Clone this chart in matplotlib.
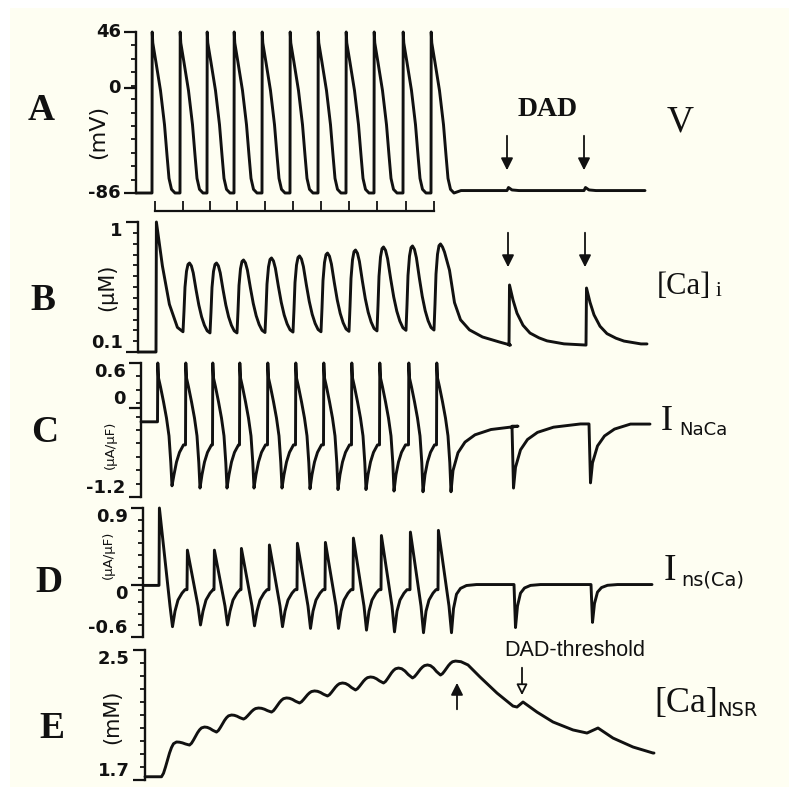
import numpy as np
import matplotlib

matplotlib.use("Agg")
import matplotlib.pyplot as plt
from matplotlib.patches import Rectangle

W, H = 789, 787
INK = "#111111"
PAPER = "#fefef2"
SERIF = "Liberation Serif"
SANS = "DejaVu Sans"

# common time base (stimulus times of the 11 paced beats, then two DADs)
beat_times = [0, 28, 55, 82, 110, 138, 166, 194, 222, 251, 279]
dad_times = [355, 432]
t_end = 493

# A: membrane potential (mV)
v_rest = -86
v_after = -84
ap_dt = [0, 0.2, 0.8, 4, 8.5, 12.5, 15, 17, 19.5, 23]
ap_mv = [-86, 46, 37, 21, -2, -30, -55, -74, -83, -86]
dad_v_dt = [0, 1.5, 5, 12]
dad_v_mv = [-84, -81.5, -83.5, -84]

# B: [Ca]i (uM)
ca_rest = 0.1
ca_peaks = [1.0, 0.716, 0.716, 0.737, 0.751, 0.765, 0.785, 0.806, 0.827, 0.834, 0.848]
ca_mins = [0.24, 0.232, 0.232, 0.235, 0.238, 0.24, 0.243, 0.246, 0.25, 0.252]
ca_tail = 0.148
ca_dad_peaks = [0.564, 0.543]
ca_rise_dt = [1, 2, 3, 4.5, 6, 7.5]
ca_rise_frac = [0, 0.3, 0.65, 0.88, 0.98, 1]
ca_fall_dt = [0, 2, 4, 7, 10, 13, 16, 19, 22]
ca_fall_frac = [1, 0.96, 0.86, 0.62, 0.4, 0.23, 0.11, 0.03, 0]
ca_first_dt = [0, 6, 13, 21, 26.6]
ca_first_frac = [1, 0.6, 0.25, 0.04, 0]
ca_tail_dt = [0, 2, 4, 9, 14, 20, 29, 42, 59, 70]
ca_tail_frac = [1, 0.97, 0.92, 0.74, 0.42, 0.25, 0.15, 0.08, 0.03, 0]
ca_dad_dt = [0, 0.5, 4, 8, 14, 21, 30, 38, 55, 76]
ca_dad_frac = [0, 1, 0.75, 0.53, 0.33, 0.2, 0.12, 0.07, 0.02, 0]

# C: I_NaCa (uA/uF)
naca_rest = -0.19
naca_fall_dt = [0.3, 1, 3, 6, 9, 11.5, 13.3]
naca_fall_val = [0.6, 0.4, 0.28, 0.08, -0.14, -0.38, -0.74]
naca_trough_dt = 14.5
naca_troughs = [-1.05, -1.08, -1.08, -1.08, -1.08, -1.09, -1.1, -1.1, -1.12, -1.13, -1.13]
naca_rec_dt = [16.5, 19, 22, 26]
naca_rec_val = [-0.9, -0.73, -0.6, -0.5]
naca_after = -0.24
naca_dad_troughs = [-1.08, -1.01]
naca_dad_after = [-0.21, -0.17]
naca_relax_dt = [0, 2, 7, 14, 24, 40, 67]
naca_relax_r = [1, 0.68, 0.41, 0.25, 0.14, 0.06, 0.01]

# D: I_ns(Ca) (uA/uF)
ns_rest = 0.0
ns_peaks = [0.9, 0.41, 0.41, 0.43, 0.47, 0.49, 0.5, 0.55, 0.58, 0.62, 0.64]
ns_troughs = [-0.48, -0.46, -0.46, -0.47, -0.48, -0.5, -0.5, -0.52, -0.54, -0.55, -0.55]
ns_knee = -0.24
ns_rec_dt = [16, 19, 23, 26]
ns_rec_val = [-0.3, -0.17, -0.09, -0.05]
ns_after = 0.01
ns_dad_troughs = [-0.49, -0.43]
ns_relax_dt = [0, 2, 5, 9, 15, 25]
ns_relax_r = [1, 0.5, 0.2, 0.08, 0.02, 0]

# E: [Ca]NSR (mM)
nsr_rest = 1.72
nsr_peaks = [1.934, 2.026, 2.10, 2.143, 2.205, 2.248, 2.297, 2.334, 2.389, 2.408, 2.432]
nsr_dips = [1.915, 1.995, 2.075, 2.118, 2.174, 2.217, 2.254, 2.297, 2.328, 2.346]
nsr_rise_dt = [0, 2, 4, 6, 8, 10, 12, 15]
nsr_rise_frac = [0, 0.1, 0.28, 0.48, 0.68, 0.84, 0.95, 1]
nsr_fall_dt = [0, 3, 6, 9, 13]
nsr_fall_frac = [1, 0.93, 0.7, 0.35, 0]
nsr_tail_t = [300, 307, 319, 336, 352, 356, 362, 376, 392, 412, 426, 437, 452, 472, 492]
nsr_tail_v = [2.428, 2.408, 2.334, 2.235, 2.155, 2.149, 2.18, 2.118, 2.057, 2.008,
              1.989, 2.02, 1.958, 1.903, 1.866]


def clip_end(t, v):
    t, v = np.array(t, float), np.array(v, float)
    keep = t <= t_end
    t, v = t[keep], v[keep]
    if t[-1] < t_end:
        t, v = np.append(t, t_end), np.append(v, v[-1])
    return t, v


def v_trace():
    t, v = [-16], [v_rest]
    for T in beat_times:
        t += [T + d for d in ap_dt]
        v += ap_mv
    t.append(beat_times[-1] + 30)
    v.append(v_after)
    for td in dad_times:
        t += [td + d for d in dad_v_dt]
        v += dad_v_mv
    return clip_end(t, v)


def ca_trace():
    t, v = [-16, 2], [ca_rest, ca_rest]
    last = len(beat_times) - 1
    for k, T in enumerate(beat_times):
        if k == 0:
            peak_t = 2.4
            t.append(peak_t)
            v.append(ca_peaks[0])
            end = ca_mins[0]
            t += [peak_t + d for d in ca_first_dt[1:-1]]
            v += [end + f * (ca_peaks[0] - end) for f in ca_first_frac[1:-1]]
            continue
        base = ca_mins[k - 1]
        t += [T + d for d in ca_rise_dt]
        v += [base + f * (ca_peaks[k] - base) for f in ca_rise_frac]
        peak_t = T + ca_rise_dt[-1]
        if k < last:
            end = ca_mins[k]
            stretch = (beat_times[k + 1] + ca_rise_dt[0] - peak_t) / ca_fall_dt[-1]
            t += [peak_t + d * stretch for d in ca_fall_dt[1:-1]]
            v += [end + f * (ca_peaks[k] - end) for f in ca_fall_frac[1:-1]]
        else:
            t += [peak_t + d for d in ca_tail_dt[1:]]
            v += [ca_tail + f * (ca_peaks[k] - ca_tail) for f in ca_tail_frac[1:]]
    for td, pk in zip(dad_times, ca_dad_peaks):
        t += [td + d for d in ca_dad_dt]
        v += [ca_tail + f * (pk - ca_tail) for f in ca_dad_frac]
    return clip_end(t, v)


def naca_trace():
    t, v = [-16], [naca_rest]
    last = len(beat_times) - 1
    for k, T in enumerate(beat_times):
        T = T + 0.5
        t.append(T)
        v.append(v[-1])
        t += [T + d for d in naca_fall_dt]
        v += naca_fall_val
        t.append(T + naca_trough_dt)
        v.append(naca_troughs[k])
        if k < last:
            t += [T + d for d in naca_rec_dt]
            v += naca_rec_val
        else:
            t0, tr = T + naca_trough_dt, naca_troughs[k]
            t += [t0 + d for d in naca_relax_dt[1:]]
            v += [naca_after + r * (tr - naca_after) for r in naca_relax_r[1:]]
    for td, tr, af in zip(dad_times, naca_dad_troughs, naca_dad_after):
        t.append(td)
        v.append(v[-1])
        t0 = td + 1.5
        t += [t0 + d for d in naca_relax_dt]
        v += [af + r * (tr - af) for r in naca_relax_r]
    return clip_end(t, v)


def ns_trace():
    t, v = [-16], [ns_rest]
    last = len(beat_times) - 1
    for k, T in enumerate(beat_times):
        t += [T, T + 0.4, T + 11, T + 13.5]
        v += [v[-1], ns_peaks[k], ns_knee, ns_troughs[k]]
        if k < last:
            t += [T + d for d in ns_rec_dt]
            v += ns_rec_val
        else:
            t0, tr = T + 13.5, ns_troughs[k]
            t += [t0 + d for d in ns_relax_dt[1:]]
            v += [ns_after + r * (tr - ns_after) for r in ns_relax_r[1:]]
    for td, tr in zip(dad_times, ns_dad_troughs):
        t.append(td)
        v.append(v[-1])
        t0 = td + 1.5
        t += [t0 + d for d in ns_relax_dt]
        v += [ns_after + r * (tr - ns_after) for r in ns_relax_r]
    return clip_end(t, v)


def nsr_trace():
    t, v = [-16], [nsr_rest]
    starts = [nsr_rest] + nsr_dips
    last = len(beat_times) - 1
    for k, T in enumerate(beat_times):
        base = starts[k]
        t += [T + 0.5 + d for d in nsr_rise_dt]
        v += [base + f * (nsr_peaks[k] - base) for f in nsr_rise_frac]
        if k < last:
            pk_t = T + 0.5 + nsr_rise_dt[-1]
            stretch = (beat_times[k + 1] + 0.5 - pk_t) / nsr_fall_dt[-1]
            t += [pk_t + d * stretch for d in nsr_fall_dt[1:-1]]
            v += [starts[k + 1] + f * (nsr_peaks[k] - starts[k + 1])
                  for f in nsr_fall_frac[1:-1]]
    t += nsr_tail_t
    v += nsr_tail_v
    return clip_end(t, v)


fig = plt.figure(figsize=(W / 100, H / 100), dpi=100, facecolor="white")
fig.patches.append(Rectangle((10 / W, 0), 1 - 10 / W, 1 - 8 / H,
                             transform=fig.transFigure, facecolor=PAPER,
                             edgecolor="none", zorder=-10))


def fx(x):
    return x / W


def fy(y):
    return 1 - y / H


def panel(spine_px, top_px, bottom_px, ylim, ticks, labels, valign, n_minor):
    ax = fig.add_axes([fx(spine_px), fy(bottom_px), 520 / W, (bottom_px - top_px) / H])
    ax.set_xlim(-16, 504)
    ax.set_ylim(*ylim)
    ax.patch.set_visible(False)
    for s in ("top", "right", "bottom"):
        ax.spines[s].set_visible(False)
    ax.spines["left"].set_linewidth(1.7)
    ax.spines["left"].set_color(INK)
    ax.set_xticks([])
    ax.set_yticks(ticks)
    ax.set_yticklabels(labels, fontfamily=SANS, fontweight="bold", fontsize=13)
    for lab, va in zip(ax.get_yticklabels(), valign):
        lab.set_verticalalignment(va)
    ax.set_yticks(np.linspace(ylim[0], ylim[1], n_minor + 1), minor=True)
    ax.tick_params(axis="y", which="major", length=9, width=1.6, pad=2, colors=INK)
    ax.tick_params(axis="y", which="minor", length=3.5, width=1.3, colors=INK)
    return ax


def trace(ax, t, v):
    ax.plot(t, v, color=INK, lw=2.1, solid_joinstyle="round",
            solid_capstyle="round", clip_on=False)


def arrow(ax, x, y_tail, y_tip, open_head=False, scale=18):
    ax.annotate("", xy=(x, y_tip), xytext=(x, y_tail), annotation_clip=False,
                arrowprops=dict(arrowstyle="-|>", color=INK, lw=1.3,
                                mutation_scale=scale,
                                fc=PAPER if open_head else INK))


def ftext(x, y, s, **kw):
    kw.setdefault("color", INK)
    fig.text(fx(x), fy(y), s, **kw)


# A
axA = panel(136, 32, 193, (-86, 46), [-86, 0, 46], ["-86", "0", "46"],
            ["center", "center", "center"], 12)
trace(axA, *v_trace())
stim = [b + 3 for b in beat_times]
axA.plot([stim[0], stim[-1]], [-101, -101], color=INK, lw=1.6, clip_on=False)
axA.vlines(stim, -101, -92.5, color=INK, lw=1.3, clip_on=False)
for td in dad_times:
    arrow(axA, td, -36.8, -69.6)

# B
axB = panel(138, 222, 352, (0.1, 1.0), [0.1, 1.0], ["0.1", "1"],
            ["bottom", "top"], 12)
trace(axB, *ca_trace())
for td in dad_times:
    arrow(axB, td - 1, 0.945, 0.668)

# C
axC = panel(141, 363, 497, (-1.2, 0.6), [-1.2, 0, 0.6], ["-1.2", "0", "0.6"],
            ["bottom", "bottom", "top"], 10)
trace(axC, *naca_trace())

# D
axD = panel(143, 508, 637, (-0.6, 0.9), [-0.6, 0, 0.9], ["-0.6", "0", "0.9"],
            ["bottom", "top", "top"], 11)
trace(axD, *ns_trace())

# E
axE = panel(145, 650, 780, (1.7, 2.5), [1.7, 2.5], ["1.7", "2.5"],
            ["bottom", "top"], 10)
trace(axE, *nsr_trace())
arrow(axE, beat_times[-1] + 17, 2.118, 2.315)
arrow(axE, dad_times[0] + 6, 2.408, 2.205, open_head=True, scale=16)

# panel letters
for letter, x, y in [("A", 41, 110), ("B", 43, 300), ("C", 45, 433),
                     ("D", 49, 582), ("E", 52, 728)]:
    ftext(x, y, letter, fontfamily=SERIF, fontweight="bold", fontsize=27,
          ha="center", va="center")

# unit labels
ftext(98, 132, "(mV)", fontfamily=SANS, fontsize=16, rotation=90, ha="center", va="center")
ftext(107, 287, "(\u03bcM)", fontfamily=SANS, fontsize=15, rotation=90, ha="center", va="center")
ftext(110, 445, "(\u03bcA/\u03bcF)", fontfamily=SANS, fontsize=9.5, rotation=90,
      ha="center", va="center")
ftext(108, 555, "(\u03bcA/\u03bcF)", fontfamily=SANS, fontsize=9.5, rotation=90,
      ha="center", va="center")
ftext(112, 717, "(mM)", fontfamily=SANS, fontsize=15, rotation=90, ha="center", va="center")

# trace names
ftext(548, 109, "DAD", fontfamily=SERIF, fontweight="bold", fontsize=20,
      ha="center", va="center")
ftext(680, 122, "V", fontfamily=SERIF, fontsize=27, ha="center", va="center")
ftext(657, 294, "[Ca]", fontfamily=SERIF, fontsize=22, ha="left", va="baseline")
ftext(716, 296, "i", fontfamily=SERIF, fontsize=15, ha="left", va="baseline")
ftext(661, 430, "I", fontfamily=SERIF, fontsize=26, ha="left", va="baseline")
ftext(679, 435, "NaCa", fontfamily=SANS, fontsize=13, ha="left", va="baseline")
ftext(664, 580, "I", fontfamily=SERIF, fontsize=27, ha="left", va="baseline")
ftext(681, 586, "ns(Ca)", fontfamily=SANS, fontsize=14, ha="left", va="baseline")
ftext(654, 712, "[Ca]", fontfamily=SERIF, fontsize=26, ha="left", va="baseline")
ftext(717, 716, "NSR", fontfamily=SANS, fontsize=14, ha="left", va="baseline")
ftext(575, 651, "DAD-threshold", fontfamily="Liberation Sans", fontsize=15.5,
      ha="center", va="center")

fig.savefig("out.png", dpi=100, facecolor=fig.get_facecolor())
